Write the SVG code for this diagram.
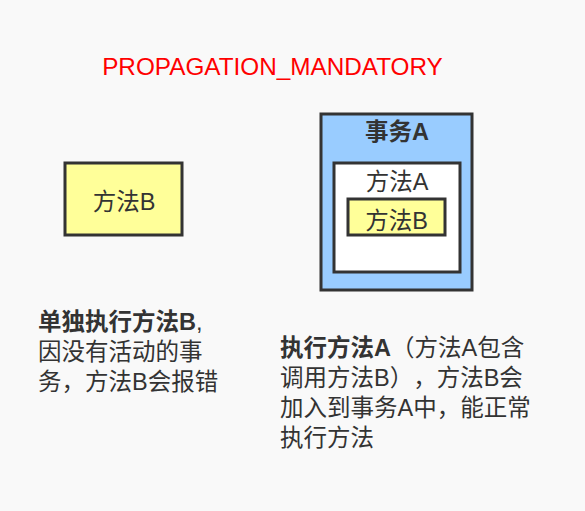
<svg xmlns="http://www.w3.org/2000/svg" width="585" height="511" viewBox="0 0 585 511">
<style>
text{font-family:"Liberation Sans","Noto Sans CJK SC",sans-serif;fill:#333;text-spacing-trim:space-all}
.box{stroke:#333;stroke-width:3}
.lbl{font-size:23.5px;text-anchor:middle}
.b{font-weight:bold}
.desc{font-size:23.5px}
</style>
<rect width="585" height="511" fill="#f9f9f9"/>
<text x="272.5" y="75" font-size="24.3" text-anchor="middle" style="fill:#ff0000">PROPAGATION_MANDATORY</text>
<g id="methodB-alone">
<rect class="box" x="65" y="163" width="117" height="72" fill="#ffff99"/>
<text class="lbl" x="124" y="210">方法B</text>
</g>
<g id="txA">
<rect class="box" x="321" y="114" width="151" height="176" fill="#99ccff"/>
<text class="lbl b" x="397" y="140">事务A</text>
</g>
<g id="methodA">
<rect class="box" x="334" y="163" width="126" height="109" fill="#ffffff"/>
<text class="lbl" x="397" y="190">方法A</text>
</g>
<g id="methodB-in-A">
<rect class="box" x="348" y="199" width="97" height="36" fill="#ffff99"/>
<text class="lbl" x="396.5" y="229">方法B</text>
</g>
<g id="desc-left">
<text class="desc" x="38" y="330"><tspan class="b">单独执行方法B</tspan>,</text>
<text class="desc" x="38" y="360">因没有活动的事</text>
<text class="desc" x="38" y="390">务，方法B会报错</text>
</g>
<g id="desc-right">
<text class="desc" x="280" y="356"><tspan class="b">执行方法A</tspan>（方法A包含</text>
<text class="desc" x="280" y="386">调用方法B），方法B会</text>
<text class="desc" x="280" y="416">加入到事务A中，能正常</text>
<text class="desc" x="280" y="446">执行方法</text>
</g>
</svg>
